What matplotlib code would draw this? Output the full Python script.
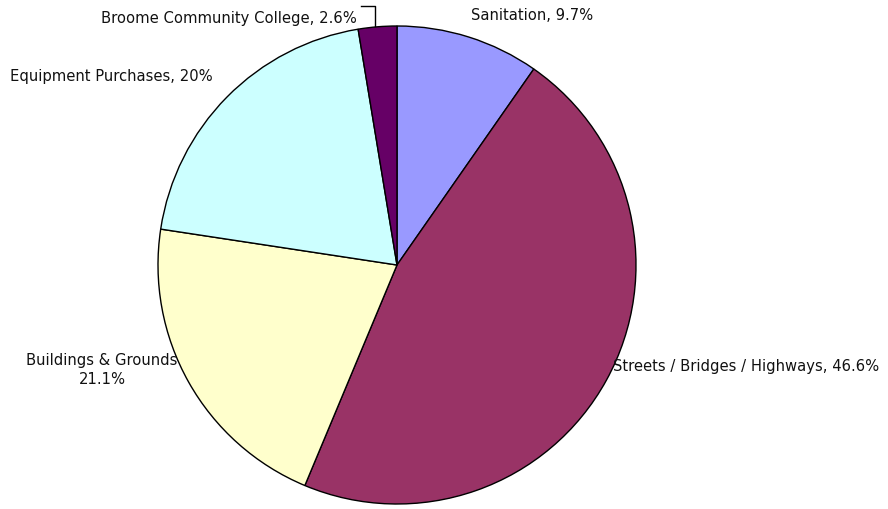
import matplotlib
matplotlib.use("Agg")
import matplotlib.pyplot as plt

categories = ["Sanitation", "Streets / Bridges / Highways", "Buildings & Grounds",
              "Equipment Purchases", "Broome Community College"]
shares = [9.7, 46.6, 21.1, 20.0, 2.6]
colors = ["#9999FF", "#993366", "#FFFFCC", "#CCFFFF", "#660066"]
label_texts = ["Sanitation, 9.7%", "Streets / Bridges / Highways, 46.6%",
               "Buildings & Grounds\n21.1%", "Equipment Purchases, 20%",
               "Broome Community College, 2.6%"]

W, H = 888, 510
fig = plt.figure(figsize=(W / 100, H / 100), dpi=100)
ax = fig.add_axes([0, 0, 1, 1])
ax.axis("off")

cx, cy, r = 397, 266, 239
ax.pie(shares, colors=colors, startangle=90, counterclock=False,
       center=(cx, -cy), radius=r,
       wedgeprops=dict(edgecolor="black", linewidth=1.0))
# pixel-style frame: x to the right, y measured downward as negative values
ax.set_xlim(0, W)
ax.set_ylim(-H, 0)
ax.set_aspect("equal", adjustable="box")

font = dict(family="DejaVu Sans", fontsize=10.6, color="#111111")
ax.text(471, -15, label_texts[0], ha="left", va="center", **font)
ax.text(613, -367, label_texts[1], ha="left", va="center", **font)
ax.text(102, -370, label_texts[2], ha="center", va="center", linespacing=1.3, **font)
ax.text(10, -76, label_texts[3], ha="left", va="center", **font)
ax.text(357, -18, label_texts[4], ha="right", va="center", **font)
# leader line for the small slice
ax.plot([361, 375, 375], [-7, -7, -27], color="black", linewidth=1.0,
        clip_on=False)

fig.savefig("out.png", dpi=100)
